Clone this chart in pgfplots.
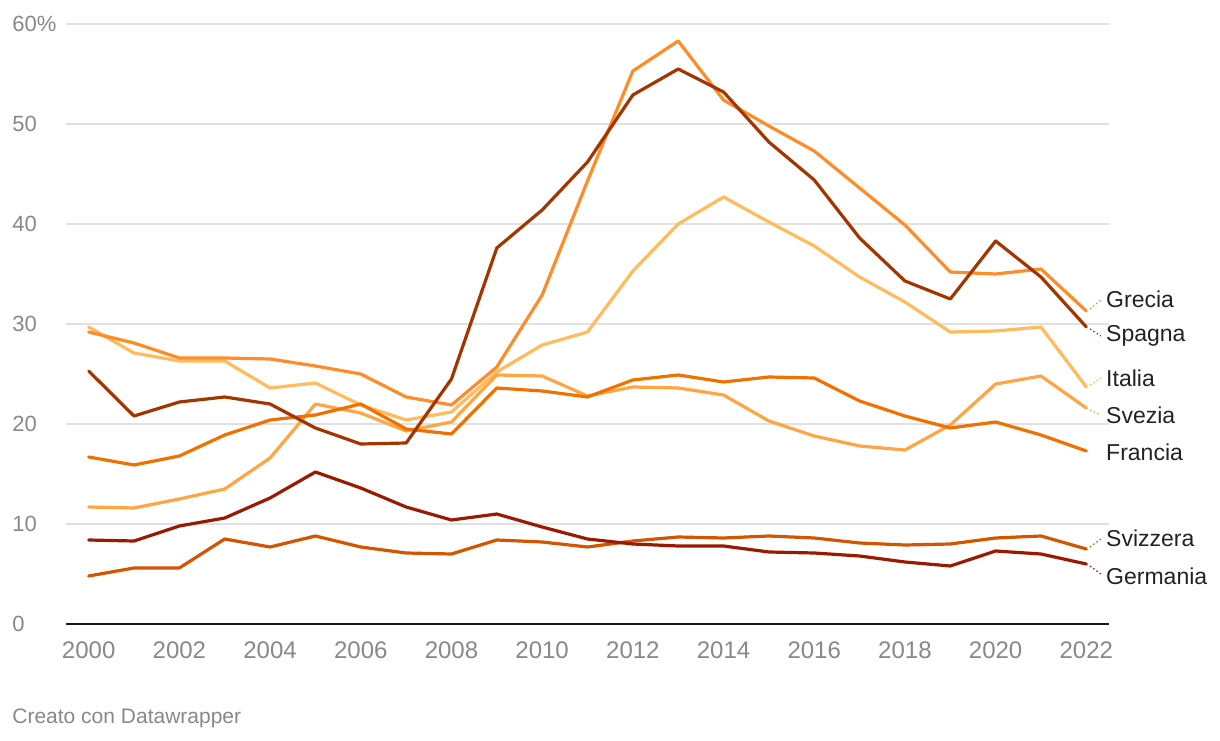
\documentclass[border=0pt]{standalone}
\usepackage{pgfplots}
\pgfplotsset{compat=1.18}
\usepackage{pgfplotstable}
\usepackage{fontspec}
\setmainfont{Liberation Sans}
\definecolor{cGre}{RGB}{255,140,40}
\definecolor{cSpa}{RGB}{163,53,0}
\definecolor{cIta}{RGB}{255,187,92}
\definecolor{cSve}{RGB}{255,165,68}
\definecolor{cFra}{RGB}{240,112,0}
\definecolor{cSvi}{RGB}{212,85,0}
\definecolor{cGer}{RGB}{154,26,0}
\definecolor{tickgray}{RGB}{136,136,136}
\definecolor{gridgray}{RGB}{225,225,225}
\definecolor{labeldark}{RGB}{34,34,34}

\pgfplotstableread{
year Grecia Spagna Italia Svezia Francia Svizzera Germania
2000 29.2 25.3 29.7 11.7 16.7 4.8 8.4
2001 28.1 20.8 27.1 11.6 15.9 5.6 8.3
2002 26.6 22.2 26.3 12.5 16.8 5.6 9.8
2003 26.6 22.7 26.3 13.5 18.9 8.5 10.6
2004 26.5 22.0 23.6 16.6 20.4 7.7 12.6
2005 25.8 19.6 24.1 22.0 20.9 8.8 15.2
2006 25.0 18.0 21.9 21.1 22.0 7.7 13.6
2007 22.7 18.1 20.4 19.3 19.5 7.1 11.7
2008 21.9 24.5 21.2 20.2 19.0 7.0 10.4
2009 25.7 37.6 25.2 24.9 23.6 8.4 11.0
2010 32.9 41.4 27.9 24.8 23.3 8.2 9.7
2011 44.3 46.2 29.2 22.8 22.7 7.7 8.5
2012 55.3 52.9 35.3 23.7 24.4 8.3 8.0
2013 58.3 55.5 40.0 23.6 24.9 8.7 7.8
2014 52.4 53.2 42.7 22.9 24.2 8.6 7.8
2015 49.8 48.2 40.2 20.3 24.7 8.8 7.2
2016 47.3 44.4 37.8 18.8 24.6 8.6 7.1
2017 43.6 38.6 34.7 17.8 22.3 8.1 6.8
2018 39.9 34.3 32.2 17.4 20.8 7.9 6.2
2019 35.2 32.5 29.2 19.9 19.6 8.0 5.8
2020 35.0 38.3 29.3 24.0 20.2 8.6 7.3
2021 35.5 34.7 29.7 24.8 18.9 8.8 7.0
2022 31.3 29.7 23.7 21.6 17.3 7.5 6.0
}\datatable

\begin{document}
\begin{tikzpicture}
\path[use as bounding box] (-33pt,-58pt) rectangle (577pt,312pt);
\begin{axis}[
  at={(0,0)}, anchor=south west,
  scale only axis,
  width=521.5pt, height=300pt,
  xmin=1999.5, xmax=2022.5,
  ymin=0, ymax=60,
  axis line style={draw=none},
  xtick={2000,2002,...,2022},
  ytick={0,10,...,60},
  yticklabels={0,10,20,30,40,50,60\%},
  major tick length=0pt,
  ymajorgrids,
  grid style={draw=gridgray, line width=0.7pt},
  /pgf/number format/assume math mode=true,
  /pgf/number format/1000 sep={},
  ticklabel style={text=tickgray},
  xticklabel style={font=\fontsize{12}{14}\selectfont, yshift=-5.5pt},
  yticklabel style={font=\fontsize{11}{13}\selectfont, anchor=west, xshift=-27pt, inner sep=0pt},
  clip=false,
  every axis plot/.append style={line width=1.6pt, line join=round, line cap=round, mark=none},
]
\draw[black!90, line width=1pt] (axis cs:1999.5,0) -- (axis cs:2022.5,0);
\addplot[cIta] table[x=year,y=Italia] {\datatable};
\addplot[cSve] table[x=year,y=Svezia] {\datatable};
\addplot[cFra] table[x=year,y=Francia] {\datatable};
\addplot[cSvi] table[x=year,y=Svizzera] {\datatable};
\addplot[cGer] table[x=year,y=Germania] {\datatable};
\addplot[cGre] table[x=year,y=Grecia] {\datatable};
\addplot[cSpa] table[x=year,y=Spagna] {\datatable};

\begin{scope}[line width=0.6pt, dash pattern=on 0.8pt off 1.2pt]
\draw[cGre] (axis cs:2022.08,31.5) -- (axis cs:2022.32,32.4);
\draw[cSpa] (axis cs:2022.08,29.5) -- (axis cs:2022.32,28.8);
\draw[cIta] (axis cs:2022.08,23.9) -- (axis cs:2022.32,24.6);
\draw[cSve] (axis cs:2022.08,21.4) -- (axis cs:2022.32,20.9);
\draw[cSvi] (axis cs:2022.08,7.7) -- (axis cs:2022.32,8.5);
\draw[cGer] (axis cs:2022.08,5.8) -- (axis cs:2022.32,5.0);
\end{scope}

\begin{scope}[every node/.style={anchor=west, inner sep=0pt, text=labeldark, font=\fontsize{11.5}{13}\selectfont}]
\node at (axis cs:2022.43,32.5) {Grecia};
\node at (axis cs:2022.43,28.8) {Spagna};
\node at (axis cs:2022.43,24.6) {Italia};
\node at (axis cs:2022.43,20.9) {Svezia};
\node at (axis cs:2022.43,17.2) {Francia};
\node at (axis cs:2022.43,8.6) {Svizzera};
\node at (axis cs:2022.43,4.8) {Germania};
\end{scope}
\end{axis}
\node[anchor=west, inner sep=0pt, text=tickgray, font=\fontsize{10.5}{12}\selectfont] at (-27pt,-47pt) {Creato con Datawrapper};
\end{tikzpicture}
\end{document}
